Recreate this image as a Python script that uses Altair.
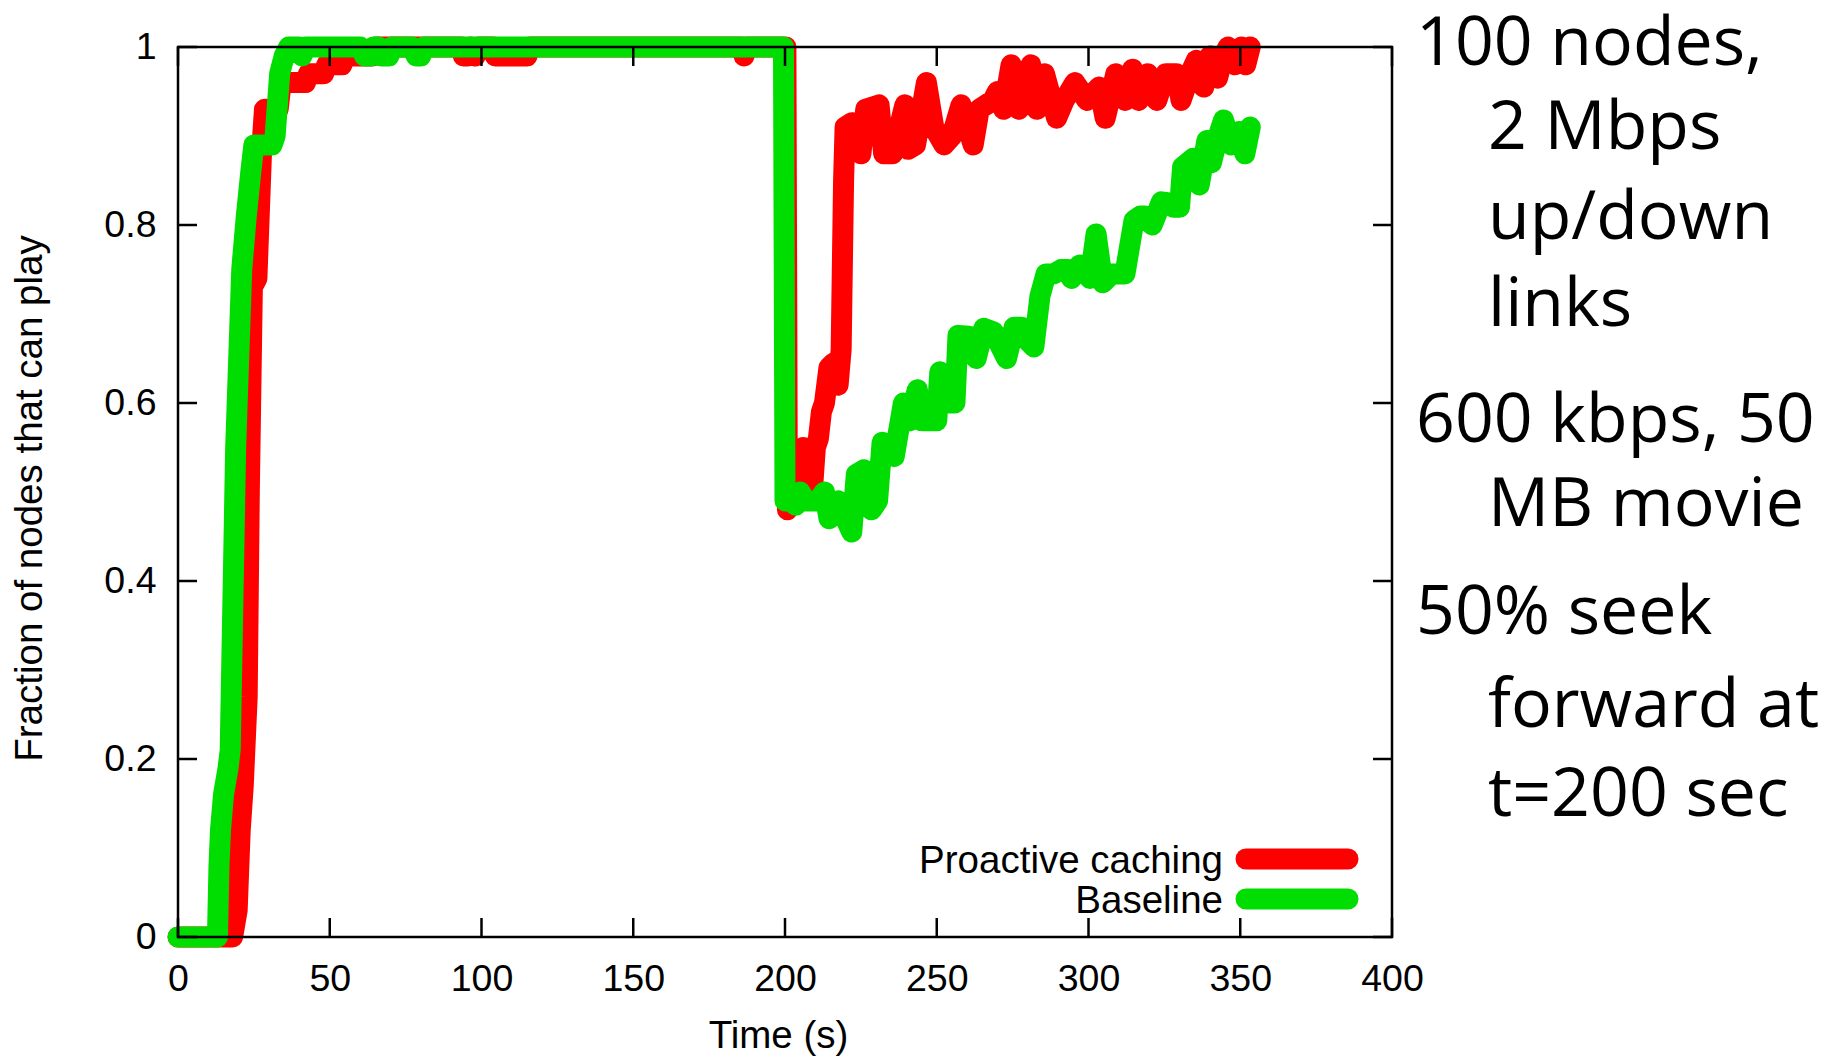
import altair as alt
import pandas as pd

# ---------------- data ----------------
red_t = [0, 18, 19.5, 20.5, 21.5, 22.8, 23.5, 24.5, 26, 27.5, 28.5, 33, 34, 42, 43, 48, 49, 54, 55, 64,
         65, 93.5, 94, 95.5, 96.5, 98, 99, 104, 104.5, 115, 116, 186, 186.5, 187.5, 200.3,
         200.8, 202.5, 204, 205, 206, 207, 208, 209, 210, 211, 212, 213, 214.5, 216, 217.5, 218.5, 219.3,
         219.8, 222, 225, 226.6, 231, 232.5, 235.5, 239.5, 240.5, 243, 246.6, 249, 252.4, 255, 258, 262,
         264, 268.5, 270, 272, 274.5, 277, 281, 283, 285.5, 289.5, 292, 295.5, 299.5, 303.5, 305.5, 309,
         312, 314.5, 316.5, 319.5, 322.5, 325.5, 329, 330.5, 333.5, 335.5, 338, 340, 342.5, 344.5, 346,
         348.3, 350.4, 351.8, 353.3]
red_v = [0, 0, 0.03, 0.12, 0.17, 0.27, 0.5, 0.73, 0.74, 0.88, 0.93, 0.93, 0.96, 0.96, 0.97, 0.97, 0.98, 0.98, 0.99, 0.99,
         1.0, 1.0, 0.99, 0.99, 1.0, 0.99, 1.0, 1.0, 0.99, 0.99, 1.0, 1.0, 0.99, 1.0, 1.0,
         0.48, 0.49, 0.50, 0.54, 0.55, 0.52, 0.51, 0.50, 0.55, 0.56, 0.59, 0.60, 0.64, 0.645, 0.62, 0.66, 0.85,
         0.91, 0.915, 0.88, 0.93, 0.935, 0.88, 0.88, 0.935, 0.885, 0.89, 0.96, 0.91, 0.89, 0.90, 0.935, 0.89,
         0.93, 0.94, 0.95, 0.93, 0.98, 0.93, 0.98, 0.93, 0.97, 0.92, 0.94, 0.96, 0.94, 0.955, 0.92, 0.97,
         0.94, 0.975, 0.94, 0.97, 0.94, 0.97, 0.97, 0.94, 0.97, 0.985, 0.955, 0.99, 0.965, 0.99, 1.0,
         0.98, 1.0, 0.98, 1.0]

green_t = [0, 13, 13.5, 14, 15, 16.5, 17.2, 19, 21, 22.5, 24, 25, 29, 31, 32, 33.5, 35, 36.5, 40, 40.8,
           42, 60, 61.5, 63.5, 64.5, 66, 67, 69.5, 70.5, 77, 78.5, 80, 81, 199.5,
           200, 202, 203.5, 205, 206.5, 209, 211, 213, 214.5, 216, 217.5, 220, 222, 223.5, 226, 228.5,
           230.5, 232, 234, 236, 239, 241, 243.6, 245, 248, 250, 251, 252, 256, 257, 260.6, 263, 265.5,
           268.7, 273, 275.5, 278, 280, 282, 284, 286, 288.5, 291, 293, 294.4, 297, 300.5, 302.5, 304.7,
           307.6, 310.6, 312, 315, 317, 318.5, 321, 324, 326, 328, 330, 331, 334.5, 336.5, 339, 340.5,
           342.3, 344.5, 347, 349.5, 351.5, 353.3]
green_v = [0, 0, 0.08, 0.12, 0.16, 0.19, 0.21, 0.55, 0.75, 0.81, 0.86, 0.89, 0.89, 0.89, 0.90, 0.97, 0.99, 1.0, 1.0, 0.99,
           1.0, 1.0, 0.99, 0.99, 1.0, 1.0, 0.99, 0.99, 1.0, 1.0, 0.99, 0.99, 1.0, 1.0,
           0.49, 0.49, 0.485, 0.50, 0.49, 0.49, 0.49, 0.50, 0.47, 0.48, 0.49, 0.47, 0.455, 0.52, 0.525, 0.48,
           0.49, 0.556, 0.55, 0.54, 0.60, 0.58, 0.615, 0.58, 0.58, 0.58, 0.635, 0.60, 0.60, 0.676, 0.675, 0.65, 0.684,
           0.68, 0.65, 0.685, 0.685, 0.67, 0.663, 0.72, 0.745, 0.745, 0.75, 0.75, 0.74, 0.755, 0.74, 0.79, 0.735,
           0.745, 0.745, 0.745, 0.805, 0.81, 0.81, 0.80, 0.826, 0.825, 0.82, 0.82, 0.865, 0.875, 0.845, 0.895, 0.87,
           0.895, 0.918, 0.89, 0.905, 0.88, 0.91]

series_names = ["Proactive caching", "Baseline"]
series_colors = ["#ff0000", "#00dd00"]

x_ticks = [0, 50, 100, 150, 200, 250, 300, 350, 400]
y_ticks = [0, 0.2, 0.4, 0.6, 0.8, 1]

note_lines = ["100 nodes,", "2 Mbps", "up/down", "links", "600 kbps, 50", "MB movie",
              "50% seek", "forward at", "t=200 sec"]
note_indent = [False, True, True, True, False, True, False, True, True]

# ---------------- layout ----------------
W, H = 1214, 890
TICK = 19
LW = 21
AXFONT = "Liberation Sans"
LABEL_SIZE = 37.5
TITLE_SIZE = 38.5
note_baselines = [18, 102, 192, 279, 395, 479, 587, 680, 769]
legend_y = [812, 852]

x_scale = alt.Scale(domain=[0, 400], nice=False, zero=False)
y_scale = alt.Scale(domain=[0, 1], nice=False, zero=False)

red_df = pd.DataFrame({"t": red_t, "v": red_v})
green_df = pd.DataFrame({"t": green_t, "v": green_v})

x_axis = alt.Axis(values=x_ticks, format="d", ticks=False, domain=False, grid=False,
                  labelFont=AXFONT, labelFontSize=LABEL_SIZE, labelColor="black", labelPadding=23,
                  labelFlush=False, labelOverlap=False,
                  title="Time (s)", titleFont=AXFONT, titleFontSize=TITLE_SIZE, titleFontWeight="normal",
                  titleColor="black", titleX=600, titleY=110, titleBaseline="alphabetic")
y_axis = alt.Axis(values=y_ticks, format="~g", ticks=False, domain=False, grid=False,
                  labelFont=AXFONT, labelFontSize=LABEL_SIZE, labelColor="black", labelPadding=22,
                  labelFlush=False, labelOverlap=False,
                  title="Fraction of nodes that can play", titleFont=AXFONT, titleFontSize=TITLE_SIZE,
                  titleFontWeight="normal", titleColor="black", titleAngle=270,
                  titleX=-137, titleY=451, titleBaseline="alphabetic")

line_props = dict(strokeWidth=LW, strokeCap="round", strokeJoin="round")

red_line = alt.Chart(red_df).mark_line(color=series_colors[0], **line_props).encode(
    x=alt.X("t:Q", scale=x_scale, axis=x_axis),
    y=alt.Y("v:Q", scale=y_scale, axis=y_axis),
)
green_line = alt.Chart(green_df).mark_line(color=series_colors[1], **line_props).encode(
    x=alt.X("t:Q", scale=x_scale, axis=x_axis),
    y=alt.Y("v:Q", scale=y_scale, axis=y_axis),
)

one = pd.DataFrame({"a": [0]})
border = alt.Chart(one).mark_rect(filled=False, stroke="black", strokeWidth=2.5).encode(
    x=alt.value(0), x2=alt.value(W), y=alt.value(0), y2=alt.value(H))

xt_df = pd.DataFrame({"t": x_ticks})
yt_df = pd.DataFrame({"v": y_ticks})
tick_style = dict(color="black", strokeWidth=2.5)
xt_bottom = alt.Chart(xt_df).mark_rule(**tick_style).encode(
    x=alt.X("t:Q", scale=x_scale, axis=x_axis), y=alt.value(H), y2=alt.value(H - TICK))
xt_top = alt.Chart(xt_df).mark_rule(**tick_style).encode(
    x=alt.X("t:Q", scale=x_scale, axis=x_axis), y=alt.value(0), y2=alt.value(TICK))
yt_left = alt.Chart(yt_df).mark_rule(**tick_style).encode(
    y=alt.Y("v:Q", scale=y_scale, axis=y_axis), x=alt.value(0), x2=alt.value(TICK))
yt_right = alt.Chart(yt_df).mark_rule(**tick_style).encode(
    y=alt.Y("v:Q", scale=y_scale, axis=y_axis), x=alt.value(W), x2=alt.value(W - TICK))

layers = [red_line, green_line, border, xt_bottom, xt_top, yt_left, yt_right]

for name, col, ly in zip(series_names, series_colors, legend_y):
    ndf = pd.DataFrame({"name": [name]})
    layers.append(alt.Chart(ndf).mark_text(align="right", baseline="middle", font=AXFONT,
                                           fontSize=TITLE_SIZE, color="black").encode(
        text="name:N", x=alt.value(1045), y=alt.value(ly + 2)))
    layers.append(alt.Chart(ndf).mark_rule(color=col, strokeWidth=LW, strokeCap="round").encode(
        x=alt.value(1068), x2=alt.value(1170), y=alt.value(ly)))

for line, ind, by in zip(note_lines, note_indent, note_baselines):
    ndf = pd.DataFrame({"s": [line]})
    layers.append(alt.Chart(ndf).mark_text(align="left", baseline="alphabetic", font="Open Sans",
                                           fontSize=68, color="black").encode(
        text="s:N", x=alt.value(1310 if ind else 1238), y=alt.value(by)))

chart = alt.layer(*layers).properties(
    width=W, height=H,
    autosize=alt.AutoSizeParams(type="none"),
    padding={"left": 170, "top": 39, "right": 437, "bottom": 119},
    background="white",
).configure_view(stroke=None)

chart.save("out.html", embed_options={"renderer": "svg", "actions": False})
